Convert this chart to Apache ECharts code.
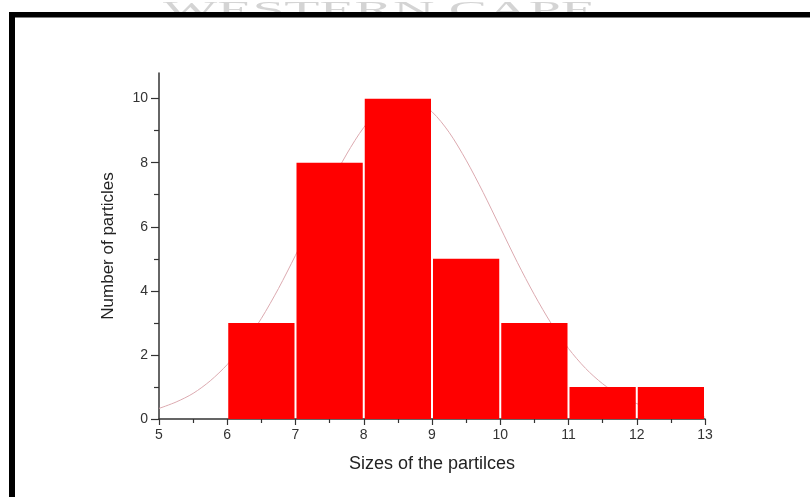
<!DOCTYPE html>
<html>
<head>
<meta charset="utf-8">
<script src="https://cdn.jsdelivr.net/npm/echarts@6/dist/echarts.min.js"></script>
<style>
  html, body { margin: 0; padding: 0; background: #fff; }
  #chart { width: 810px; height: 497px; }
</style>
</head>
<body>
<div id="chart"></div>
<script>
// Histogram bins (size ranges) and particle counts
const binStart = [6, 7, 8, 9, 10, 11, 12];
const binEnd   = [7, 8, 9, 10, 11, 12, 13];
const counts   = [3, 8, 10, 5, 3, 1, 1];

// Fitted distribution curve, sampled along the size axis
const fitX = [5.0, 5.25, 5.5, 5.75, 6.0, 6.25, 6.5, 6.75, 7.0, 7.25, 7.5, 7.75, 8.0, 8.25, 8.5,
              8.75, 9.0, 9.25, 9.5, 9.75, 10.0, 10.25, 10.5, 10.75, 11.0, 11.25, 11.5, 11.75,
              12.0, 12.25, 12.5, 12.75, 13.0];
const fitY = [0.33, 0.53, 0.80, 1.19, 1.70, 2.35, 3.14, 4.07, 5.11, 6.20, 7.28, 8.27, 9.10, 9.68, 9.97,
              9.94, 9.59, 8.95, 8.08, 7.07, 5.98, 4.89, 3.88, 2.97, 2.20, 1.58, 1.10, 0.74,
              0.48, 0.30, 0.18, 0.11, 0.06];

// Axis ticks
const yMajor = [0, 2, 4, 6, 8, 10];
const yMinor = [1, 3, 5, 7, 9];

const font = 'Liberation Sans';
const axisColor = '#333';

const barData = binStart.map((s, i) => [s, binEnd[i], counts[i]]);
const fitData = fitX.map((x, i) => [x, fitY[i]]);

const chart = echarts.init(document.getElementById('chart'), null, { renderer: 'canvas' });

chart.setOption({
  animation: false,
  backgroundColor: '#fff',
  grid: { left: 159, right: 105, top: 73, bottom: 78 },
  xAxis: {
    type: 'value',
    min: 5, max: 13, interval: 1,
    name: 'Sizes of the partilces',
    nameLocation: 'middle',
    nameGap: 36,
    nameTextStyle: { fontFamily: font, fontSize: 18, color: '#222' },
    axisLine: { onZero: false, lineStyle: { color: axisColor, width: 1.5 } },
    axisTick: { show: true, inside: false, length: 6, lineStyle: { color: axisColor, width: 1.2 } },
    minorTick: { show: true, splitNumber: 2, length: 4, lineStyle: { color: axisColor, width: 1.2 } },
    splitLine: { show: false },
    axisLabel: { margin: 9, fontFamily: font, fontSize: 14, color: '#333' }
  },
  yAxis: [{
    type: 'value',
    position: 'left',
    min: 0, max: 10.8,
    name: 'Number of particles',
    nameLocation: 'middle',
    nameGap: 42,
    nameTextStyle: { fontFamily: font, fontSize: 17, color: '#222' },
    axisLine: { show: true, onZero: false, lineStyle: { color: axisColor, width: 1.5 } },
    axisTick: { show: true, inside: false, length: 8, customValues: yMajor, lineStyle: { color: axisColor, width: 1.2 } },
    splitLine: { show: false },
    axisLabel: { margin: 11, fontFamily: font, fontSize: 14, color: '#333', customValues: yMajor }
  }, {
    type: 'value',
    position: 'left',
    min: 0, max: 10.8,
    axisLine: { show: false },
    axisTick: { show: true, inside: false, length: 5, customValues: yMinor, lineStyle: { color: axisColor, width: 1.2 } },
    axisLabel: { show: false },
    splitLine: { show: false }
  }],
  series: [{
    // distribution curve, drawn underneath the bars
    type: 'line',
    data: fitData,
    smooth: 0.3,
    showSymbol: false,
    symbol: 'none',
    z: 1,
    lineStyle: { color: '#dcaab0', width: 1 }
  }, {
    // histogram bars spanning each size bin
    type: 'custom',
    z: 2,
    data: barData,
    encode: { x: [0, 1], y: 2 },
    renderItem: function (params, api) {
      const p0 = api.coord([api.value(0), api.value(2)]);
      const p1 = api.coord([api.value(1), 0]);
      return {
        type: 'rect',
        shape: { x: p0[0] + 1, y: p0[1], width: p1[0] - p0[0] - 2, height: p1[1] - p0[1] },
        style: { fill: '#ff0000', stroke: null }
      };
    }
  }],
  graphic: [{
    // faint heading text above the frame
    type: 'text',
    left: 163, top: -1,
    scaleX: 2.5,
    z: 1,
    style: { text: 'WESTERN CAPE', fontFamily: 'Liberation Serif', fontSize: 23, fill: '#d4d4d4' }
  }, {
    type: 'rect', z: 10,
    shape: { x: 9, y: 12, width: 801, height: 5.5 },
    style: { fill: '#000' }
  }, {
    type: 'rect', z: 10,
    shape: { x: 9, y: 12, width: 6, height: 485 },
    style: { fill: '#000' }
  }]
});
</script>
</body>
</html>
